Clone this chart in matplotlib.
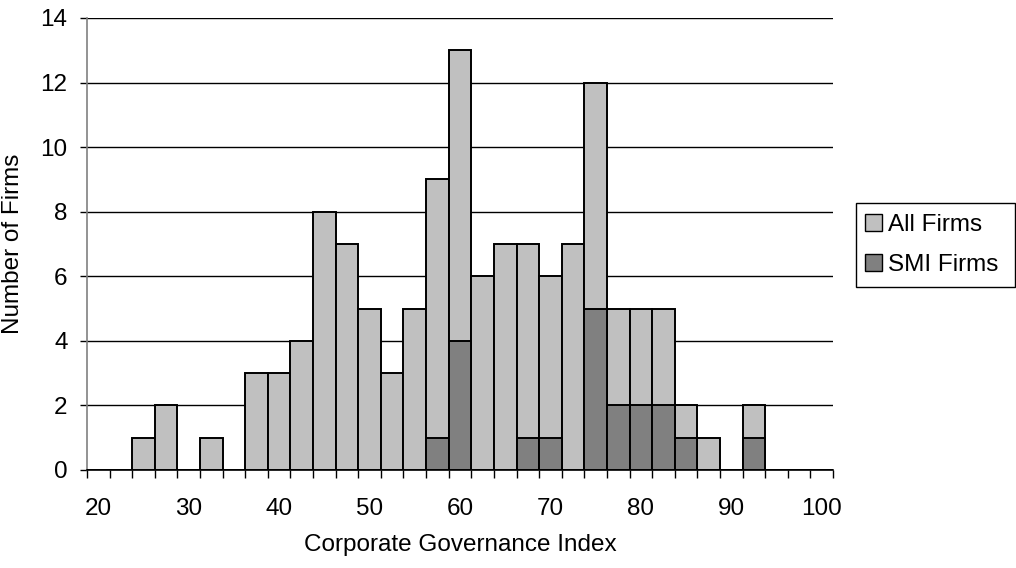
import matplotlib
matplotlib.use("Agg")
import matplotlib.pyplot as plt
from matplotlib.patches import Patch, Rectangle

# Categories (bin starts of the Corporate Governance Index)
categories = [20, 22.5, 25, 27.5, 30, 32.5, 35, 37.5, 40, 42.5, 45, 47.5, 50, 52.5,
              55, 57.5, 60, 62.5, 65, 67.5, 70, 72.5, 75, 77.5, 80, 82.5, 85, 87.5,
              90, 92.5, 95, 97.5, 100]
all_firms = [0, 0, 1, 2, 0, 1, 0, 3, 3, 4, 8, 7, 5, 3, 5, 9, 13, 6, 7, 7, 6, 7, 12,
             5, 5, 5, 2, 1, 0, 2, 0, 0, 0]
smi_firms = [0, 0, 0, 0, 0, 0, 0, 0, 0, 0, 0, 0, 0, 0, 0, 1, 4, 0, 0, 1, 1, 0, 5,
             2, 2, 2, 1, 0, 0, 1, 0, 0, 0]
x_labels = ["20", "30", "40", "50", "60", "70", "80", "90", "100"]
y_ticks = [0, 2, 4, 6, 8, 10, 12, 14]

plt.rcParams['font.family'] = ['Liberation Sans', 'DejaVu Sans']
FS = 17.5

fig = plt.figure(figsize=(10.16, 5.68), dpi=100)
ax = fig.add_axes([87/1016, 1 - 470/568, (833-87)/1016, (470-18)/568])

n = len(categories)
idx = list(range(n))
ax.bar(idx, all_firms, width=1, color='#C0C0C0', edgecolor='black', linewidth=1.4, zorder=3)
ax.bar(idx, smi_firms, width=1, color='#808080', edgecolor='black', linewidth=1.4, zorder=4)

ax.set_xlim(-0.5, n - 0.5)
ax.set_ylim(0, 14)
ax.set_yticks(y_ticks)
ax.set_yticklabels([str(v) for v in y_ticks], fontsize=FS)
ax.tick_params(axis='y', direction='out', length=5, width=1, color='black', pad=9)
ax.yaxis.grid(True, color='black', linewidth=1)
ax.set_axisbelow(True)

# tick marks at category boundaries, labels at every 4th category
ax.set_xticks([i - 0.5 for i in range(n + 1)])
ax.set_xticklabels([])
ax.tick_params(axis='x', which='major', direction='out', length=5.8, width=1, color='black')
lab_pos = [i for i in idx if categories[i] % 10 == 0]
ax.set_xticks(lab_pos, minor=True)
ax.set_xticklabels(x_labels, minor=True, fontsize=FS)
ax.tick_params(axis='x', which='minor', length=0, pad=20.5)

for s in ['top', 'right']:
    ax.spines[s].set_visible(False)
ax.spines['left'].set_color('#808080')
ax.spines['left'].set_linewidth(1.2)
ax.spines['bottom'].set_color('black')
ax.spines['bottom'].set_linewidth(1.2)
ax.spines['bottom'].set_zorder(5)

ax.set_xlabel('Corporate Governance Index', fontsize=FS, labelpad=9.5)
ax.set_ylabel('Number of Firms', fontsize=FS, labelpad=12)

handles = [Patch(facecolor='#C0C0C0', edgecolor='black', label='All Firms'),
           Patch(facecolor='#808080', edgecolor='black', label='SMI Firms')]
leg = fig.legend(handles=handles, loc='center left', bbox_to_anchor=(865/1016, 1 - 245/568),
                 fontsize=FS, frameon=False,
                 handlelength=0.7, handleheight=0.7, handletextpad=0.25, borderpad=0,
                 labelspacing=0.7, borderaxespad=0)
fig.add_artist(Rectangle((856/1016, 1 - 287/568), (1015-856)/1016, (287-203)/568,
                         transform=fig.transFigure, fill=False, edgecolor='black',
                         linewidth=1.0))

fig.savefig('out.png', dpi=100)
